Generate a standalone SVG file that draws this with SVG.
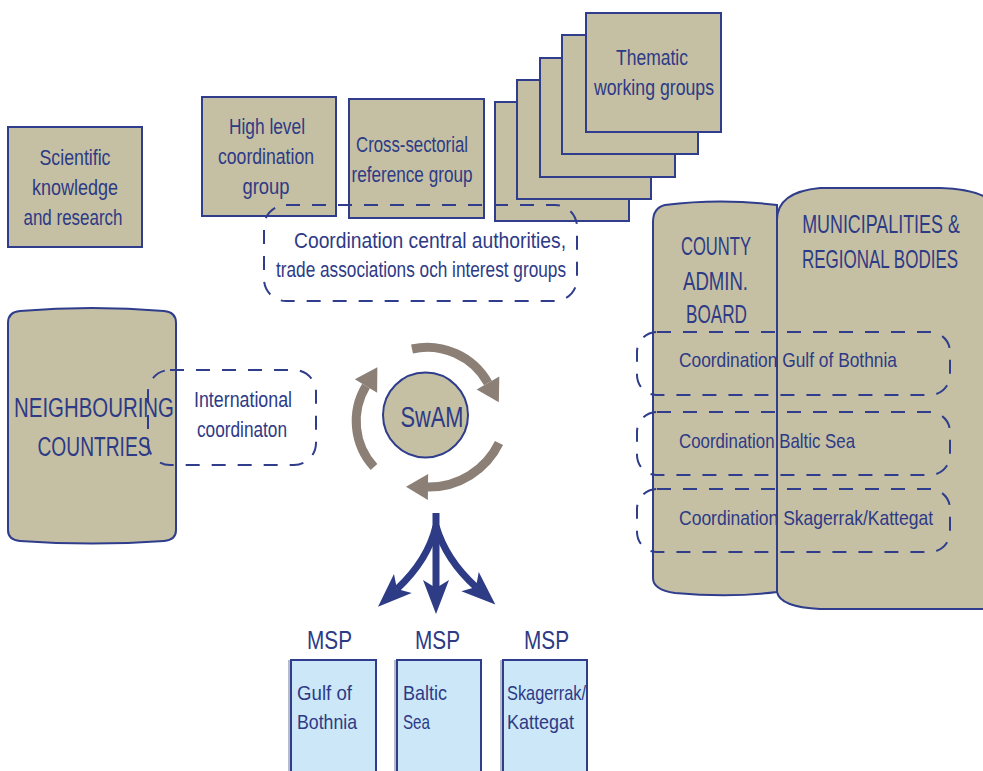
<svg xmlns="http://www.w3.org/2000/svg" width="983" height="771" viewBox="0 0 983 771">
<style>
.box{fill:#c5c0a3;stroke:#2f3d8c;stroke-width:2}
.dash{fill:none;stroke:#2f3d8c;stroke-width:2;stroke-dasharray:14 12}
.t{font-family:"Liberation Sans",Arial,sans-serif;fill:#2d3a86;font-size:22px;text-anchor:middle}
.tl{font-family:"Liberation Sans",Arial,sans-serif;fill:#2d3a86;font-size:21px}
.msp{fill:#cce7f8;stroke:#2f3d8c;stroke-width:2}
.cyc{fill:none;stroke:#8b7f76;stroke-width:9}
.tri{fill:none;stroke:#2e3b85;stroke-width:7}
</style>
<defs>
<marker id="ga" markerUnits="userSpaceOnUse" markerWidth="30" markerHeight="30" refX="0" refY="0" viewBox="-2 -15 28 30" orient="auto">
<path d="M0,-13 L22,0 L0,13 Z" fill="#8b7f76"/>
</marker>
<marker id="ba" markerUnits="userSpaceOnUse" markerWidth="40" markerHeight="40" refX="0" refY="0" viewBox="-10 -15 40 30" orient="auto">
<path d="M-8,-13 L26,0 L-8,13 L0,0 Z" fill="#2e3b85"/>
</marker>
</defs>

<g id="scientific">
<rect class="box" x="8" y="127" width="134" height="120"/>
<text class="t" x="75" y="165" textLength="71" lengthAdjust="spacingAndGlyphs">Scientific</text>
<text class="t" x="75" y="195" textLength="86" lengthAdjust="spacingAndGlyphs">knowledge</text>
<text class="t" x="73" y="225" textLength="99" lengthAdjust="spacingAndGlyphs">and research</text>
</g>

<g id="high-level">
<rect class="box" x="202" y="97" width="134" height="119"/>
<text class="t" x="267" y="134" textLength="76" lengthAdjust="spacingAndGlyphs">High level</text>
<text class="t" x="266" y="164" textLength="96" lengthAdjust="spacingAndGlyphs">coordination</text>
<text class="t" x="266" y="194" textLength="47" lengthAdjust="spacingAndGlyphs">group</text>
</g>

<g id="cross-sectorial">
<rect class="box" x="349" y="99" width="135" height="119"/>
<text class="t" x="412" y="152" textLength="112" lengthAdjust="spacingAndGlyphs">Cross-sectorial</text>
<text class="t" x="412" y="182" textLength="121" lengthAdjust="spacingAndGlyphs">reference group</text>
</g>

<g id="thematic">
<rect class="box" x="495" y="102" width="134" height="119"/>
<rect class="box" x="517" y="80" width="134" height="119"/>
<rect class="box" x="540" y="58" width="135" height="119"/>
<rect class="box" x="562" y="35" width="136" height="119"/>
<rect class="box" x="586" y="13" width="135" height="119"/>
<text class="t" x="652" y="65" textLength="72" lengthAdjust="spacingAndGlyphs">Thematic</text>
<text class="t" x="654" y="95" textLength="120" lengthAdjust="spacingAndGlyphs">working groups</text>
</g>

<g id="central-coordination">
<rect class="dash" x="264" y="205" width="313" height="96" rx="22"/>
<text class="t" x="430" y="248" textLength="272" lengthAdjust="spacingAndGlyphs">Coordination central authorities,</text>
<text class="t" x="421" y="277" textLength="290" lengthAdjust="spacingAndGlyphs">trade associations och interest groups</text>
</g>

<g id="neighbouring">
<path class="box" d="M8,323 Q8,312 20,311 Q92,305 164,311 Q176,312 176,323 V530 Q176,540 164,541 Q92,546 20,541 Q8,540 8,530 Z"/>
<text class="t" transform="translate(94,417) scale(0.72,1)" x="0" y="0" style="font-size:28px" textLength="222" lengthAdjust="spacingAndGlyphs">NEIGHBOURING</text>
<text class="t" transform="translate(94,456) scale(0.72,1)" x="0" y="0" style="font-size:28px" textLength="157" lengthAdjust="spacingAndGlyphs">COUNTRIES</text>
</g>

<g id="international">
<rect class="dash" x="148" y="370" width="168" height="95" rx="22"/>
<text class="t" x="243" y="407" textLength="98" lengthAdjust="spacingAndGlyphs">International</text>
<text class="t" x="242" y="437" textLength="90" lengthAdjust="spacingAndGlyphs">coordinaton</text>
</g>

<g id="swam">
<circle cx="425.5" cy="415" r="42.5" fill="#c5c0a3" stroke="#2f3d8c" stroke-width="2"/>
<text class="t" x="432" y="427" style="font-size:29px" textLength="63" lengthAdjust="spacingAndGlyphs">SwAM</text>
</g>

<g id="municipalities">
<path class="box" d="M777,592 Q780,607 820,609 L990,609 V200 Q975,189 940,188 L820,188 Q777,192 777,220 Z"/>
<text class="t" transform="translate(881,233) scale(0.72,1)" x="0" y="0" style="font-size:25px" textLength="219" lengthAdjust="spacingAndGlyphs">MUNICIPALITIES &amp;</text>
<text class="t" transform="translate(880,268) scale(0.72,1)" x="0" y="0" style="font-size:25px" textLength="217" lengthAdjust="spacingAndGlyphs">REGIONAL BODIES</text>
</g>

<g id="county">
<path class="box" d="M777,205 Q720,198 665,205 Q653,208 653,222 V578 Q653,590 675,593 Q730,598 777,592 Z"/>
<text class="t" x="716" y="255" style="font-size:25px" textLength="70" lengthAdjust="spacingAndGlyphs">COUNTY</text>
<text class="t" x="715.5" y="290" style="font-size:25px" textLength="65" lengthAdjust="spacingAndGlyphs">ADMIN.</text>
<text class="t" x="716.5" y="323" style="font-size:25px" textLength="61" lengthAdjust="spacingAndGlyphs">BOARD</text>
</g>

<g id="coord-gulf">
<rect class="dash" x="637" y="332" width="313" height="63" rx="20"/>
<text class="tl" x="679" y="367" textLength="218" lengthAdjust="spacingAndGlyphs">Coordination Gulf of Bothnia</text>
</g>
<g id="coord-baltic">
<rect class="dash" x="637" y="412" width="313" height="63" rx="20"/>
<text class="tl" x="679" y="448" textLength="176" lengthAdjust="spacingAndGlyphs">Coordination Baltic Sea</text>
</g>
<g id="coord-skag">
<rect class="dash" x="637" y="489" width="313" height="63" rx="20"/>
<text class="tl" x="679" y="525" textLength="254" lengthAdjust="spacingAndGlyphs">Coordination Skagerrak/Kattegat</text>
</g>

<g id="msp-gulf">
<rect x="288" y="660" width="88" height="120" fill="#b7bccb"/>
<rect class="msp" x="291" y="660" width="85" height="120"/>
<text class="t" x="329.5" y="649" style="font-size:25px" textLength="45" lengthAdjust="spacingAndGlyphs">MSP</text>
<text class="tl" x="297" y="700" textLength="55" lengthAdjust="spacingAndGlyphs">Gulf of</text>
<text class="tl" x="297" y="729" textLength="60" lengthAdjust="spacingAndGlyphs">Bothnia</text>
</g>
<g id="msp-baltic">
<rect x="394" y="660" width="87" height="120" fill="#b7bccb"/>
<rect class="msp" x="397" y="660" width="84" height="120"/>
<text class="t" x="437.5" y="649" style="font-size:25px" textLength="45" lengthAdjust="spacingAndGlyphs">MSP</text>
<text class="tl" x="403" y="700" textLength="44" lengthAdjust="spacingAndGlyphs">Baltic</text>
<text class="tl" x="403" y="729" textLength="27" lengthAdjust="spacingAndGlyphs">Sea</text>
</g>
<g id="msp-skag">
<rect x="500" y="660" width="87" height="120" fill="#b7bccb"/>
<rect class="msp" x="503" y="660" width="84" height="120"/>
<text class="t" x="546.5" y="649" style="font-size:25px" textLength="45" lengthAdjust="spacingAndGlyphs">MSP</text>
<text class="tl" x="507" y="700" textLength="79" lengthAdjust="spacingAndGlyphs">Skagerrak/</text>
<text class="tl" x="507" y="729" textLength="67" lengthAdjust="spacingAndGlyphs">Kattegat</text>
</g>

<g id="connectors">
<path class="cyc" d="M412,349 A70,70 0 0 1 488,383" marker-end="url(#ga)"/>
<path class="cyc" d="M499,443 A78,78 0 0 1 428,487" marker-end="url(#ga)"/>
<path class="cyc" d="M374,467 A68,68 0 0 1 366,386" marker-end="url(#ga)"/>
<path class="tri" d="M436,513 V588" marker-end="url(#ba)"/>
<path class="tri" d="M436,526 Q428,560 397,589" marker-end="url(#ba)"/>
<path class="tri" d="M436,526 Q446,560 476,587" marker-end="url(#ba)"/>
</g>
</svg>
